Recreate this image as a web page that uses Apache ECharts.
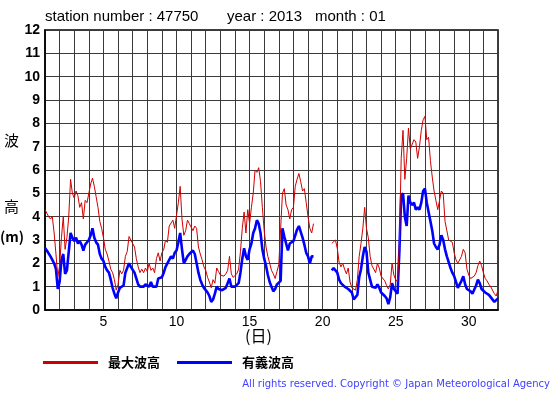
<!DOCTYPE html>
<html><head><meta charset="utf-8">
<script src="https://cdn.jsdelivr.net/npm/echarts@6/dist/echarts.min.js"></script>
<style>html,body{margin:0;padding:0;background:#fff}#c{width:555px;height:395px}</style>
</head><body><div id="c"></div>
<script>
// 3-hourly readings, starting Jan 1 00:00 (day 1.0), 8 values per day
const startDay = 1;
const stepsPerDay = 8;
const maxWave = [
  4.3,4.15,4.0,3.9,4.0,3.3,2.4,1.4,
  1.9,3.1,4.0,2.6,3.1,4.0,5.6,5.0,
  4.8,5.1,4.9,4.4,4.6,3.9,4.7,4.6,
  5.0,5.4,5.65,5.3,4.85,4.4,3.8,3.5,
  3.1,2.6,2.4,2.1,1.75,1.6,1.3,0.85,
  1.1,1.7,1.55,1.7,2.3,2.5,3.15,3.0,
  3.0,2.7,2.2,1.85,1.6,1.75,1.6,1.8,
  1.65,2.0,1.7,1.8,1.6,2.2,2.45,2.1,
  2.45,2.6,3.0,2.9,3.6,3.6,3.85,3.5,
  3.5,4.6,5.3,3.9,3.2,3.4,3.85,3.7,
  3.7,3.4,3.6,3.5,2.7,2.4,2.15,1.85,
  1.7,1.4,1.2,0.95,1.3,1.15,1.8,1.65,
  1.5,1.45,1.45,1.55,1.7,2.3,1.55,1.4,
  1.45,1.55,1.75,2.5,3.5,4.2,3.3,4.3,
  3.7,4.4,5.0,6.0,5.9,6.1,5.5,4.4,
  3.4,2.7,2.3,2.0,1.7,1.55,1.35,1.65,
  1.95,2.0,5.0,5.2,4.5,4.3,3.9,4.3,
  4.4,5.3,5.6,5.85,5.5,5.1,5.2,4.6,
  4.0,3.5,3.3,3.7,null,null,null,null,
  null,null,null,null,null,2.85,2.9,3.0,
  2.65,2.05,1.85,2.0,1.75,1.55,1.8,1.2,
  0.95,1.0,0.85,1.3,2.3,2.85,3.5,4.4,
  3.5,3.1,2.3,1.9,1.75,1.6,2.0,1.8,
  1.45,1.5,1.25,1.05,0.9,1.1,2.0,1.5,
  1.3,1.2,2.8,6.5,7.7,5.6,6.5,7.8,
  6.9,6.9,7.3,7.2,6.5,7.0,7.7,8.15,
  8.3,7.3,7.4,6.4,5.7,5.1,4.7,4.3,
  4.3,5.1,5.0,3.8,3.4,3.0,3.05,2.9,
  2.45,2.15,2.0,2.05,2.3,2.6,2.45,1.75,
  1.5,1.35,1.4,1.45,1.6,1.9,2.1,1.9,
  1.6,1.35,1.25,1.1,1.0,1.0,0.7,0.6,
  0.85
];
const sigWave = [
  2.65,2.55,2.5,2.3,2.15,2.0,1.75,0.9,
  1.2,2.15,2.4,1.55,1.7,2.5,3.3,3.1,
  2.95,3.1,2.85,2.95,2.8,2.55,2.8,2.75,
  3.0,3.2,3.5,3.1,2.9,2.8,2.4,2.2,
  2.1,1.85,1.7,1.6,1.3,0.95,0.7,0.5,
  0.75,0.95,1.0,1.05,1.6,1.8,2.0,1.85,
  1.8,1.6,1.35,1.1,1.0,1.05,1.0,1.1,
  1.15,1.0,1.2,1.0,1.05,1.0,1.35,1.4,
  1.4,1.6,1.85,2.0,2.15,2.3,2.2,2.45,
  2.55,2.9,3.3,2.6,2.0,2.15,2.3,2.4,
  2.35,2.55,2.4,2.0,1.6,1.3,1.1,0.95,
  0.85,0.75,0.6,0.35,0.45,0.7,1.0,0.9,
  0.9,0.85,0.9,0.95,1.0,1.35,1.0,0.95,
  1.0,1.05,1.15,1.6,2.2,2.65,2.3,2.15,
  2.6,2.85,3.3,3.5,3.85,3.7,3.3,2.6,
  2.2,1.9,1.5,1.2,1.0,0.8,0.9,1.1,
  1.15,1.25,3.5,3.15,2.85,2.55,2.85,2.9,
  2.95,3.2,3.45,3.6,3.35,3.1,2.8,2.45,
  2.3,2.0,2.3,2.3,null,null,null,null,
  null,null,null,null,null,1.7,1.8,1.75,
  1.6,1.3,1.15,1.1,1.0,1.0,0.9,0.85,
  0.75,0.45,0.5,0.65,1.4,1.75,2.3,2.7,
  2.5,1.6,1.3,1.0,1.0,0.95,1.1,0.95,
  0.75,0.7,0.6,0.5,0.25,0.55,1.15,0.9,
  0.85,0.7,2.5,4.9,5.0,4.0,3.6,4.9,
  4.6,4.5,4.6,4.3,4.4,4.3,4.6,5.1,
  5.2,4.6,4.2,3.8,3.4,2.85,2.7,2.6,
  2.8,3.2,3.0,2.6,2.3,2.05,1.8,1.6,
  1.45,1.2,0.95,0.9,1.25,1.45,1.1,0.9,
  0.85,0.8,0.7,0.75,1.05,1.3,1.15,0.9,
  0.85,0.75,0.7,0.65,0.55,0.6,0.35,0.4,
  0.5
];
const xLabelDays = [5, 10, 15, 20, 25, 30];
const seriesNames = ['最大波高', '有義波高'];
const titleParts = ['station number : 47750', 'year : 2013', 'month : 01'];

function toPairs(vals) {
  return vals.map((v, i) => [startDay + i / stepsPerDay, v]);
}

const chart = echarts.init(document.getElementById('c'), null, {renderer: 'canvas'});
const latin = 'Liberation Sans, Arial, sans-serif';
const cjk = '"Noto Sans CJK JP", sans-serif';
chart.setOption({
  backgroundColor: '#fff',
  animation: false,
  grid: {left: 45, right: 57, top: 30, bottom: 85, show: true, borderColor: '#000', borderWidth: 1.5},
  xAxis: {
    type: 'value', min: 1, max: 32, interval: 1,
    axisLine: {show: true, lineStyle: {color: '#000', width: 1.5}},
    axisTick: {show: false},
    splitLine: {show: true, lineStyle: {color: '#3a3a3a', width: 1}},
    axisLabel: {
      color: '#000', fontFamily: latin, fontSize: 14, margin: 5,
      formatter: v => xLabelDays.includes(v) ? String(v) : ''
    }
  },
  yAxis: {
    type: 'value', min: 0, max: 12, interval: 1,
    axisLine: {show: true, lineStyle: {color: '#000', width: 1.5}},
    axisTick: {show: false},
    splitLine: {show: true, lineStyle: {color: '#3a3a3a', width: 1}},
    axisLabel: {color: '#000', fontFamily: latin, fontSize: 14, fontWeight: 'bold', margin: 5}
  },
  legend: {
    left: 43, top: 356, padding: 0, icon: 'rect', itemWidth: 55, itemHeight: 3, itemGap: 17,
    data: seriesNames,
    textStyle: {fontFamily: cjk, fontSize: 13, fontWeight: 'bold', color: '#000', padding: [0, 0, 0, 5]}
  },
  series: [
    {name: seriesNames[1], type: 'line', data: toPairs(sigWave), showSymbol: false, z: 2,
     color: '#0000ff', lineStyle: {color: '#0000ff', width: 2.6}},
    {name: seriesNames[0], type: 'line', data: toPairs(maxWave), showSymbol: false, z: 3,
     color: '#cc0000', lineStyle: {color: '#d00000', width: 1}}
  ],
  graphic: [
    {type: 'text', left: 45, top: 9, style: {text: titleParts[0], font: '15px ' + latin, fill: '#000'}},
    {type: 'text', left: 227, top: 9, style: {text: titleParts[1], font: '15px ' + latin, fill: '#000'}},
    {type: 'text', left: 315, top: 9, style: {text: titleParts[2], font: '15px ' + latin, fill: '#000'}},
    {type: 'text', left: 4, top: 133, style: {text: '波', font: '15px ' + cjk, fill: '#000'}},
    {type: 'text', left: 4, top: 199, style: {text: '高', font: '15px ' + cjk, fill: '#000'}},
    {type: 'text', left: 0, top: 230, style: {text: '(m)', font: 'bold 14px ' + cjk, fill: '#000'}},
    {type: 'text', left: 245, top: 328, style: {text: '(日)', font: '16px ' + cjk, fill: '#000'}},
    {type: 'text', right: 5, top: 379, style: {text: 'All rights reserved. Copyright © Japan Meteorological Agency', font: '10px DejaVu Sans, sans-serif', fill: '#4040ff'}}
  ]
});
</script></body></html>
